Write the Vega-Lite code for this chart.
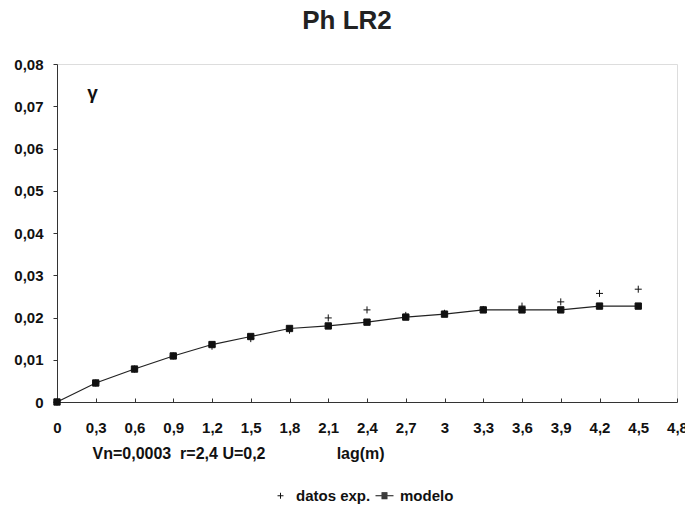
{
  "$schema": "https://vega.github.io/schema/vega-lite/v6.json",
  "width": 620,
  "height": 338,
  "autosize": {"type": "none"},
  "padding": {"left": 57, "top": 64, "right": 8, "bottom": 103},
  "background": "white",
  "title": {
    "text": "Ph LR2",
    "font": "Liberation Sans",
    "fontSize": 26,
    "fontWeight": "bold",
    "color": "#222",
    "anchor": "middle",
    "dx": -20,
    "offset": 23
  },
  "data": {
    "values": [
      {"lag": 0, "gamma": 0, "serie": "datos exp."},
      {"lag": 0.3, "gamma": 0.0045, "serie": "datos exp."},
      {"lag": 0.6, "gamma": 0.0078, "serie": "datos exp."},
      {"lag": 0.9, "gamma": 0.0109, "serie": "datos exp."},
      {"lag": 1.2, "gamma": 0.0132, "serie": "datos exp."},
      {"lag": 1.5, "gamma": 0.015, "serie": "datos exp."},
      {"lag": 1.8, "gamma": 0.017, "serie": "datos exp."},
      {"lag": 2.1, "gamma": 0.0199, "serie": "datos exp."},
      {"lag": 2.4, "gamma": 0.0218, "serie": "datos exp."},
      {"lag": 2.7, "gamma": 0.0205, "serie": "datos exp."},
      {"lag": 3, "gamma": 0.021, "serie": "datos exp."},
      {"lag": 3.3, "gamma": 0.0219, "serie": "datos exp."},
      {"lag": 3.6, "gamma": 0.0227, "serie": "datos exp."},
      {"lag": 3.9, "gamma": 0.0237, "serie": "datos exp."},
      {"lag": 4.2, "gamma": 0.0257, "serie": "datos exp."},
      {"lag": 4.5, "gamma": 0.0267, "serie": "datos exp."},
      {"lag": 0, "gamma": 0, "serie": "modelo"},
      {"lag": 0.3, "gamma": 0.0045, "serie": "modelo"},
      {"lag": 0.6, "gamma": 0.0078, "serie": "modelo"},
      {"lag": 0.9, "gamma": 0.0109, "serie": "modelo"},
      {"lag": 1.2, "gamma": 0.0136, "serie": "modelo"},
      {"lag": 1.5, "gamma": 0.0155, "serie": "modelo"},
      {"lag": 1.8, "gamma": 0.0174, "serie": "modelo"},
      {"lag": 2.1, "gamma": 0.018, "serie": "modelo"},
      {"lag": 2.4, "gamma": 0.0189, "serie": "modelo"},
      {"lag": 2.7, "gamma": 0.0201, "serie": "modelo"},
      {"lag": 3, "gamma": 0.0208, "serie": "modelo"},
      {"lag": 3.3, "gamma": 0.0218, "serie": "modelo"},
      {"lag": 3.6, "gamma": 0.0218, "serie": "modelo"},
      {"lag": 3.9, "gamma": 0.0218, "serie": "modelo"},
      {"lag": 4.2, "gamma": 0.0227, "serie": "modelo"},
      {"lag": 4.5, "gamma": 0.0227, "serie": "modelo"}
    ]
  },
  "encoding": {
    "x": {
      "field": "lag",
      "type": "quantitative",
      "scale": {"domain": [0, 4.8], "nice": false, "zero": true},
      "axis": {
        "values": [0, 0.3, 0.6, 0.9, 1.2, 1.5, 1.8, 2.1, 2.4, 2.7, 3, 3.3, 3.6, 3.9, 4.2, 4.5, 4.8],
        "labelExpr": "replace(format(datum.value, '.1~f'), '.', ',')",
        "grid": false,
        "domainColor": "#333",
        "tickColor": "#333",
        "tickSize": -4,
        "labelFont": "Liberation Sans",
        "labelFontSize": 15,
        "labelFontWeight": "bold",
        "labelColor": "#111",
        "labelPadding": 22,
        "labelOverlap": false,
        "labelFlush": false,
        "title": "Vn=0,0003\u00a0\u00a0r=2,4 U=0,2\u00a0\u00a0\u00a0\u00a0\u00a0\u00a0\u00a0\u00a0\u00a0\u00a0\u00a0\u00a0\u00a0\u00a0\u00a0\u00a0lag(m)",
        "titleFont": "Liberation Sans",
        "titleFontSize": 16,
        "titleFontWeight": "bold",
        "titleColor": "#111",
        "titleAnchor": "start",
        "titleAlign": "left",
        "titleX": 35,
        "titleY": 51,
        "titleBaseline": "middle"
      }
    },
    "y": {
      "field": "gamma",
      "type": "quantitative",
      "scale": {"domain": [0, 0.08], "nice": false},
      "axis": {
        "values": [0, 0.01, 0.02, 0.03, 0.04, 0.05, 0.06, 0.07, 0.08],
        "labelExpr": "replace(format(datum.value, '.2~f'), '.', ',')",
        "grid": false,
        "domainColor": "#333",
        "tickColor": "#333",
        "tickSize": 4,
        "labelFont": "Liberation Sans",
        "labelFontSize": 15,
        "labelFontWeight": "bold",
        "labelColor": "#111",
        "labelPadding": 10,
        "title": "γ",
        "titleFont": "Liberation Sans",
        "titleFontSize": 19,
        "titleFontWeight": "bold",
        "titleColor": "#111",
        "titleAngle": 0,
        "titleAlign": "center",
        "titleBaseline": "middle",
        "titleX": 35,
        "titleY": 28
      }
    }
  },
  "layer": [
    {
      "transform": [{"filter": "datum.serie === 'modelo'"}],
      "mark": {"type": "line", "color": "#222", "strokeWidth": 1.2}
    },
    {
      "transform": [{"filter": "datum.serie === 'modelo'"}],
      "mark": {"type": "point", "shape": "square", "filled": true, "fill": "#111", "stroke": "#111", "strokeWidth": 1, "size": 40, "opacity": 1}
    },
    {
      "transform": [{"filter": "datum.serie === 'datos exp.'"}],
      "mark": {"type": "point", "filled": false, "color": "#111", "stroke": "#111", "strokeWidth": 1, "size": 450, "opacity": 1},
      "encoding": {
        "shape": {
          "field": "serie",
          "type": "nominal",
          "scale": {
            "domain": ["datos exp.", "modelo"],
            "range": [
              "M-0.33,0H0.33M0,-0.33V0.33",
              "M-1,0H1M-0.33,-0.33H0.33M-0.33,-0.22H0.33M-0.33,-0.11H0.33M-0.33,0.11H0.33M-0.33,0.22H0.33M-0.33,0.33H0.33"
            ]
          },
          "legend": {
            "orient": "none",
            "legendX": 214,
            "legendY": 422,
            "direction": "horizontal",
            "title": null,
            "labelFont": "Liberation Sans",
            "labelFontSize": 15,
            "labelFontWeight": "bold",
            "labelColor": "#111",
            "symbolSize": 324,
            "symbolStrokeColor": "#111",
            "symbolStrokeWidth": 1,
            "symbolOpacity": 1,
            "columnPadding": 2,
            "labelOffset": 6
          }
        }
      }
    }
  ]
}
